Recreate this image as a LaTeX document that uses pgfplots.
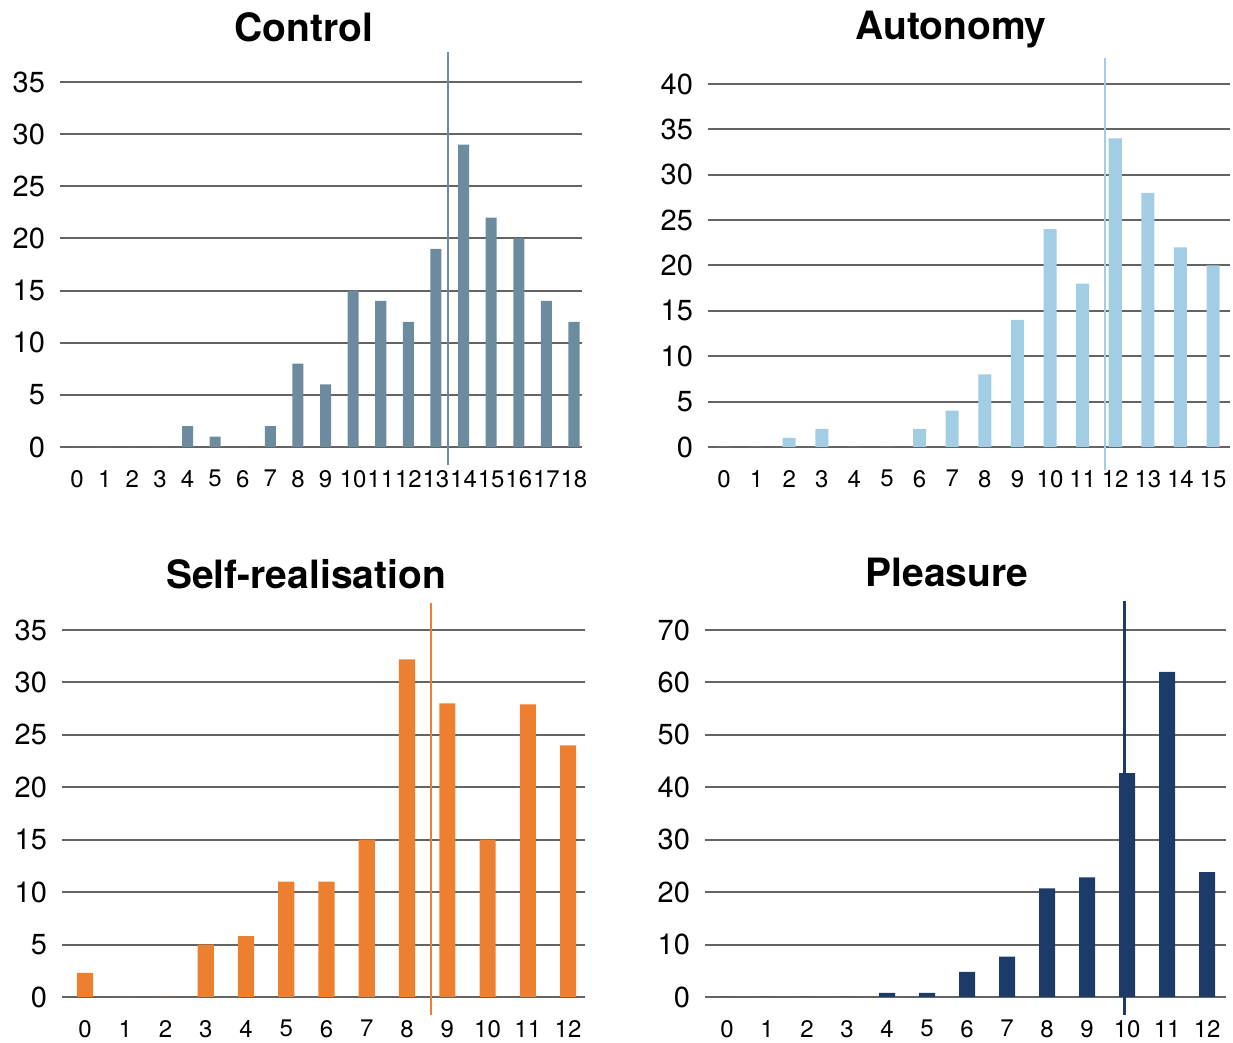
\documentclass[border=0pt]{standalone}
\usepackage{fontspec}
\setmainfont{TeX Gyre Heros}
\usepackage{pgfplots}
\pgfplotsset{compat=1.18}

\definecolor{ctrlc}{HTML}{6D8B9E}
\definecolor{autoc}{HTML}{A3CDE4}
\definecolor{selfc}{HTML}{EC7F30}
\definecolor{pleac}{HTML}{1C3B66}
\definecolor{gridc}{HTML}{646464}

\pgfplotsset{
  panel/.style={
    scale only axis, anchor=south west, ymin=0, clip=false,
    enlargelimits=false,
    axis line style={draw=none}, major tick length=0pt,
    ymajorgrids, grid style={draw=gridc, line width=1pt},
    /pgf/number format/assume math mode=true,
    yticklabel style={font=\fontsize{14.5}{14.5}\selectfont, xshift=-4pt},
    xticklabel style={font=\fontsize{12}{12}\selectfont, yshift=-8pt},
  },
  bars/.style={ybar, bar width=0.4, draw=none, fill=#1},
}

\begin{document}
\begin{tikzpicture}
\useasboundingbox (0,0) rectangle (616.5pt,521.5pt);

% Control
\begin{axis}[panel, at={(30pt,298pt)}, width=261pt, height=182.5pt,
  xmin=-0.62, xmax=18.29, ymax=35, ytick={0,5,...,35}, xtick={0,...,18}]
\addplot[bars=ctrlc] coordinates {(0,0) (1,0) (2,0) (3,0) (4,2) (5,1) (6,0) (7,2) (8,8) (9,6)
  (10,15) (11,14) (12,12) (13,19) (14,29) (15,22) (16,20) (17,14) (18,12)};
\addplot[ctrlc, line width=1.2pt] coordinates {(13.43,-1.73) (13.43,37.9)};
\end{axis}

% Autonomy
\begin{axis}[panel, at={(354pt,298pt)}, width=261pt, height=181.5pt,
  xmin=-0.49, xmax=15.52, ymax=40, ytick={0,5,...,40}, xtick={0,...,15}]
\addplot[bars=autoc] coordinates {(0,0) (1,0) (2,1) (3,2) (4,0) (5,0) (6,2) (7,4) (8,8) (9,14)
  (10,24) (11,18) (12,34) (13,28) (14,22) (15,20)};
\addplot[autoc, line width=1.2pt] coordinates {(11.69,-2.5) (11.69,42.9)};
\end{axis}

% Self-realisation
\begin{axis}[panel, at={(31pt,23pt)}, width=261.5pt, height=183.5pt,
  xmin=-0.57, xmax=12.42, ymax=35, ytick={0,5,...,35}, xtick={0,...,12}]
\addplot[bars=selfc] coordinates {(0,2.3) (1,0) (2,0) (3,5) (4,5.8) (5,11) (6,11) (7,15) (8,32.2)
  (9,28) (10,15) (11,27.9) (12,24)};
\addplot[selfc, line width=1.2pt] coordinates {(8.6,-1.7) (8.6,37.6)};
\end{axis}

% Pleasure
\begin{axis}[panel, at={(352.5pt,23pt)}, width=260.5pt, height=183.5pt,
  xmin=-0.55, xmax=12.47, ymax=70, ytick={0,10,...,70}, xtick={0,...,12}]
\addplot[bars=pleac] coordinates {(0,0) (1,0) (2,0) (3,0) (4,0.8) (5,0.8) (6,4.8) (7,7.7) (8,20.7)
  (9,22.8) (10,42.7) (11,62) (12,23.8)};
\addplot[pleac, line width=1.2pt] coordinates {(9.93,-3.4) (9.93,75.5)};
\end{axis}

\node[font=\bfseries\fontsize{19.5}{19.5}\selectfont] at (152pt,508pt) {Control};
\node[font=\bfseries\fontsize{19.5}{19.5}\selectfont] at (475.5pt,506.5pt) {Autonomy};
\node[font=\bfseries\fontsize{19.5}{19.5}\selectfont] at (153pt,234.5pt) {Self-realisation};
\node[font=\bfseries\fontsize{19.5}{19.5}\selectfont] at (473.5pt,235.5pt) {Pleasure};
\end{tikzpicture}
\end{document}
